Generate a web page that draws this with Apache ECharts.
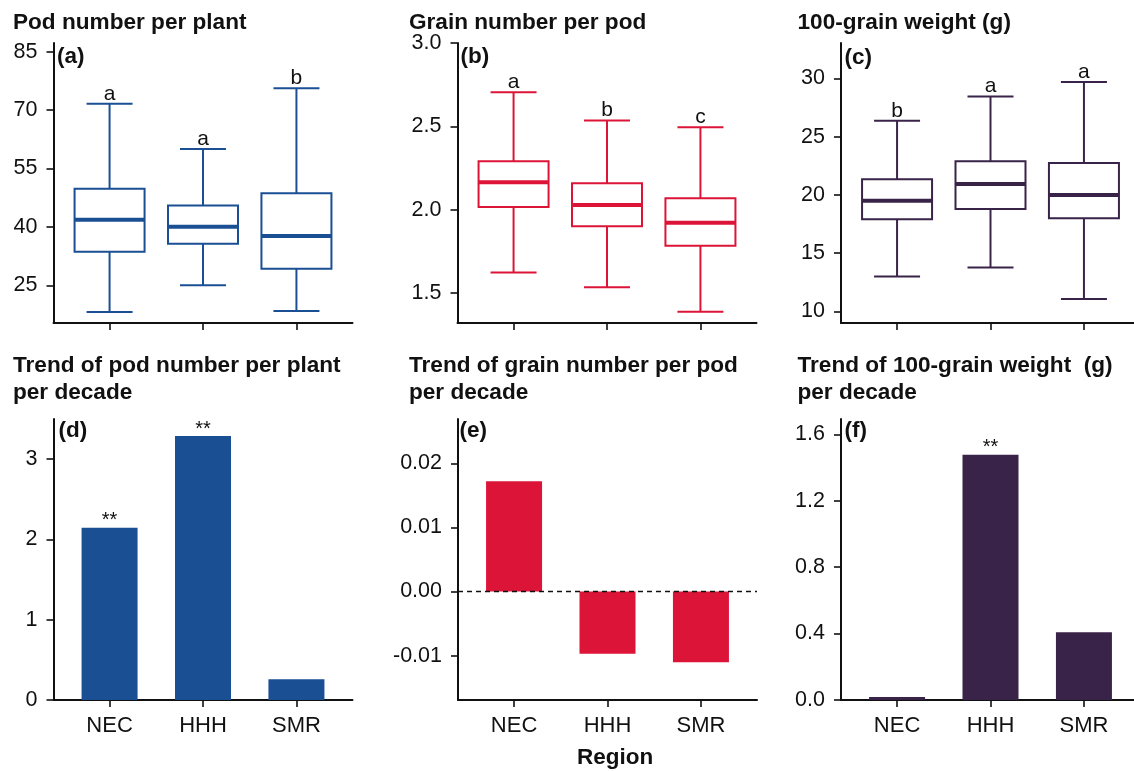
<!DOCTYPE html>
<html>
<head>
<meta charset="utf-8">
<script src="https://cdn.jsdelivr.net/npm/echarts@6/dist/echarts.min.js"></script>
<style>
  html, body { margin: 0; padding: 0; background: #ffffff; }
  #chart { width: 1134px; height: 771px; }
</style>
</head>
<body>
<div id="chart"></div>
<script>
// ---- data ----
const regions = ['NEC', 'HHH', 'SMR'];

// box statistics per region: [min, Q1, median, Q3, max]
const podBox = [
  [18.2, 33.7, 41.9, 49.8, 71.6],
  [25.1, 35.7, 40.1, 45.5, 60.0],
  [18.5, 29.3, 37.7, 48.7, 75.6]
];
const podLetters = ['a', 'a', 'b'];

const grainBox = [
  [1.623, 2.016, 2.164, 2.290, 2.705],
  [1.535, 1.900, 2.028, 2.158, 2.535],
  [1.387, 1.784, 1.922, 2.068, 2.495]
];
const grainLetters = ['a', 'b', 'c'];

const weightBox = [
  [13.00, 17.92, 19.49, 21.35, 26.37],
  [13.77, 18.80, 20.94, 22.89, 28.46],
  [11.06, 18.00, 20.00, 22.74, 29.71]
];
const weightLetters = ['b', 'a', 'a'];

// trend per decade
const podTrend = [2.146, 3.288, 0.258];
const podSig = ['**', '**', ''];
const grainTrend = [0.0172, -0.0097, -0.0110];
const grainSig = ['', '', ''];
const weightTrend = [0.018, 1.476, 0.408];
const weightSig = ['', '**', ''];

// axis tick values
const podTicks = [25, 40, 55, 70, 85];
const grainTicks = [1.5, 2.0, 2.5, 3.0];
const weightTicks = [10, 15, 20, 25, 30];
const podTrendTicks = [0, 1, 2, 3];
const grainTrendTicks = [-0.01, 0, 0.01, 0.02];
const weightTrendTicks = [0, 0.4, 0.8, 1.2, 1.6];
const regionTicks = [1, 2, 3];

// ---- styling ----
const FONT = '"Liberation Sans", Arial, Helvetica, sans-serif';
const INK = '#111111';
const BLUE = '#1A4F94';
const RED = '#DC1538';
const PURPLE = '#3A2348';
const BOX_W = 70;
const CAP_W = 46;

const grids = [
  { left: 53.5, top: 43, width: 299, height: 280 },
  { left: 457.5, top: 43, width: 299, height: 280 },
  { left: 841, top: 43, width: 299, height: 280 },
  { left: 53.5, top: 419, width: 299, height: 281 },
  { left: 458, top: 419, width: 299, height: 281 },
  { left: 841, top: 419, width: 299, height: 281 }
].map(g => Object.assign({ containLabel: false, outerBoundsMode: 'none' }, g));

function xAxisFor(i, showLabels) {
  return {
    type: 'value', gridIndex: i, min: 0.4, max: 3.6,
    axisLine: { show: true, onZero: false, lineStyle: { color: INK, width: 2 } },
    axisTick: { show: true, customValues: regionTicks, length: 7, lineStyle: { color: INK, width: 1.6 } },
    axisLabel: {
      show: showLabels, customValues: regionTicks,
      formatter: v => regions[Math.round(v) - 1] || '',
      fontSize: 22, fontFamily: FONT, color: INK, margin: 15
    },
    splitLine: { show: false }
  };
}

function yAxisFor(i, min, max, ticks, digits) {
  return {
    type: 'value', gridIndex: i, min: min, max: max,
    axisLine: { show: true, onZero: false, lineStyle: { color: INK, width: 2 } },
    axisTick: { show: true, customValues: ticks, length: 7, lineStyle: { color: INK, width: 1.6 } },
    axisLabel: {
      customValues: ticks, formatter: v => Number(v).toFixed(digits),
      fontSize: 21.5, fontFamily: FONT, color: INK, margin: 16
    },
    splitLine: { show: false }
  };
}

// box-and-whisker drawn from the stats through the axis scales
function boxRenderer(color, letters) {
  return function (params, api) {
    const x = api.value(0);
    const pMin = api.coord([x, api.value(1)]);
    const pQ1 = api.coord([x, api.value(2)]);
    const pMed = api.coord([x, api.value(3)]);
    const pQ3 = api.coord([x, api.value(4)]);
    const pMax = api.coord([x, api.value(5)]);
    const cx = pMin[0];
    const hw = BOX_W / 2, cw = CAP_W / 2;
    const thin = { stroke: color, lineWidth: 2, fill: null };
    return {
      type: 'group',
      children: [
        { type: 'line', shape: { x1: cx, y1: pQ3[1], x2: cx, y2: pMax[1] }, style: thin },
        { type: 'line', shape: { x1: cx, y1: pQ1[1], x2: cx, y2: pMin[1] }, style: thin },
        { type: 'line', shape: { x1: cx - cw, y1: pMax[1], x2: cx + cw, y2: pMax[1] }, style: thin },
        { type: 'line', shape: { x1: cx - cw, y1: pMin[1], x2: cx + cw, y2: pMin[1] }, style: thin },
        { type: 'rect', shape: { x: cx - hw, y: pQ3[1], width: 2 * hw, height: pQ1[1] - pQ3[1] },
          style: { stroke: color, lineWidth: 2, fill: '#ffffff' } },
        { type: 'line', shape: { x1: cx - hw, y1: pMed[1], x2: cx + hw, y2: pMed[1] },
          style: { stroke: color, lineWidth: 4 } },
        { type: 'text', style: {
            text: letters[params.dataIndex], x: cx, y: pMax[1] + 0.5,
            align: 'center', textAlign: 'center', verticalAlign: 'bottom', textVerticalAlign: 'bottom',
            font: '21px ' + FONT, fill: INK } }
      ]
    };
  };
}

function boxSeries(i, box, color, letters) {
  return {
    type: 'custom', xAxisIndex: i, yAxisIndex: i,
    data: box.map((s, k) => [k + 1].concat(s)),
    encode: { x: 0, y: [1, 2, 3, 4, 5] },
    renderItem: boxRenderer(color, letters),
    clip: false, silent: true
  };
}

function barSeries(i, values, color, sig) {
  return {
    type: 'bar', xAxisIndex: i, yAxisIndex: i,
    data: values.map((v, k) => [k + 1, v]),
    barWidth: 56,
    itemStyle: { color: color },
    label: {
      show: true, position: 'top', distance: -3,
      formatter: p => sig[p.dataIndex],
      fontSize: 20, fontFamily: FONT, color: INK
    },
    silent: true
  };
}

function text(x, y, str, opts) {
  return {
    type: 'text', x: x, y: y, silent: true,
    style: Object.assign({
      text: str, fill: INK,
      align: 'left', textAlign: 'left', verticalAlign: 'top', textVerticalAlign: 'top'
    }, opts)
  };
}
const titleFont = 'bold 22.6px ' + FONT;
const tagFont = 'bold 22.5px ' + FONT;

const chart = echarts.init(document.getElementById('chart'), null, { renderer: 'canvas' });
chart.setOption({
  animation: false,
  backgroundColor: '#ffffff',
  grid: grids,
  xAxis: [
    xAxisFor(0, false), xAxisFor(1, false), xAxisFor(2, false),
    xAxisFor(3, true), xAxisFor(4, true), xAxisFor(5, true)
  ],
  yAxis: [
    yAxisFor(0, 15.4, 87.2, podTicks, 0),
    yAxisFor(1, 1.32, 3.0, grainTicks, 1),
    yAxisFor(2, 9.0, 33.05, weightTicks, 0),
    yAxisFor(3, 0, 3.5, podTrendTicks, 0),
    yAxisFor(4, -0.0169, 0.0269, grainTrendTicks, 2),
    yAxisFor(5, 0, 1.692, weightTrendTicks, 1)
  ],
  series: [
    boxSeries(0, podBox, BLUE, podLetters),
    boxSeries(1, grainBox, RED, grainLetters),
    boxSeries(2, weightBox, PURPLE, weightLetters),
    barSeries(3, podTrend, BLUE, podSig),
    Object.assign(barSeries(4, grainTrend, RED, grainSig), {
      markLine: {
        silent: true, symbol: ['none', 'none'],
        label: { show: false },
        lineStyle: { type: [5, 4], color: INK, width: 1.3 },
        data: [{ yAxis: 0 }]
      }
    }),
    barSeries(5, weightTrend, PURPLE, weightSig)
  ],
  graphic: [
    text(13, 9.5, 'Pod number per plant', { font: titleFont, lineHeight: 27.5 }),
    text(409, 9, 'Grain number per pod', { font: titleFont, lineHeight: 27.5 }),
    text(797.5, 9.5, '100-grain weight (g)', { font: titleFont, lineHeight: 27.5 }),
    text(13, 352, 'Trend of pod number per plant\nper decade', { font: titleFont, lineHeight: 27.5 }),
    text(409, 352, 'Trend of grain number per pod\nper decade', { font: titleFont, lineHeight: 27.5 }),
    text(797.5, 352, 'Trend of 100-grain weight  (g)\nper decade', { font: titleFont, lineHeight: 27.5 }),
    text(57, 45, '(a)', { font: tagFont, lineHeight: 24 }),
    text(460.5, 45, '(b)', { font: tagFont, lineHeight: 24 }),
    text(844.5, 46, '(c)', { font: tagFont, lineHeight: 24 }),
    text(58.5, 419, '(d)', { font: tagFont, lineHeight: 24 }),
    text(459.5, 419, '(e)', { font: tagFont, lineHeight: 24 }),
    text(844.5, 419, '(f)', { font: tagFont, lineHeight: 24 }),
    text(615, 745, 'Region', { font: 'bold 22.5px ' + FONT, lineHeight: 26, align: 'center', textAlign: 'center' })
  ]
});
</script>
</body>
</html>
